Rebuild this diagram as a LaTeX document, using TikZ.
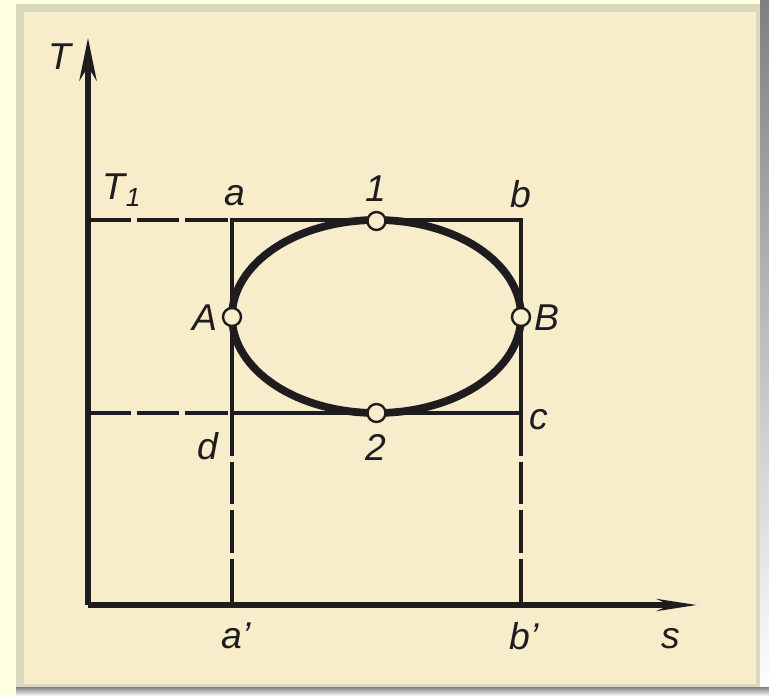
\documentclass[tikz,border=0pt]{standalone}
\usepackage{fontspec}
\setmainfont{Liberation Sans}
\usepackage{xcolor}
\definecolor{ink}{HTML}{1E1C1E}
\definecolor{paper}{HTML}{F7EDCB}
\definecolor{mount}{HTML}{D9D9BC}
\definecolor{shade}{HTML}{7F7E82}
\definecolor{page}{HTML}{FFFFE2}
\usepackage{tikz}
\usetikzlibrary{arrows.meta}
\tikzset{
  axis/.style={line width=3.8pt, color=ink},
  rim/.style={line width=2.3pt, color=ink},
  rimdash/.style={rim, dash pattern=on 32pt off 4.5pt},
  cyc/.style={line width=5.8pt, color=ink},
  spot/.style={circle, draw=ink, fill=paper, line width=1.8pt, inner sep=0pt, minimum size=13.5pt},
  lbl/.style={font=\fontsize{28}{32}\selectfont\itshape, text=ink, inner sep=0pt},
}

\begin{document}
\begin{tikzpicture}[x=0.75pt, y=-0.75pt]
  \useasboundingbox (0,0) rectangle (769,696);

  % the scan: page, mount, paper
  \fill[page] (0,0) rectangle (769,696);
  \fill[mount] (16,4) rectangle (760,687);
  \fill[paper] (24,12) rectangle (756,684);
  \fill[shade] (760,0) rectangle (769,696);
  \fill[shade] (16,687) rectangle (769,696);

  \coordinate (O) at (88,605);
  \coordinate (Ttip) at (88,38);
  \coordinate (stip) at (697,605);
  \coordinate (T1) at (88,220);
  \coordinate (T2) at (88,413);
  \coordinate (a) at (232,220);
  \coordinate (b) at (521,220);
  \coordinate (c) at (521,413);
  \coordinate (d) at (232,413);
  \coordinate (ap) at (232,605);
  \coordinate (bp) at (521,605);

  % axes
  \draw[axis, -{Stealth[length=32pt, width=13pt]}] (O) -- (Ttip);
  \draw[axis, -{Stealth[length=30pt, width=9pt]}] (O) -- (stip);

  % the rectangle abcd and the drop lines
  \draw[rimdash] (T1) -- (a);
  \draw[rimdash] (T2) -- (d);
  \draw[rim] (d) -- (a) -- (b) -- (c) -- cycle;
  \draw[rimdash] (d) -- (ap);
  \draw[rimdash] (c) -- (bp);

  % the cycle
  \draw[cyc] (376.5,316.5) ellipse [x radius=144.5, y radius=96.5];

  \node[spot] (p1) at (376.5,221) {};
  \node[spot] (pA) at (232,317) {};
  \node[spot] (pB) at (521,317) {};
  \node[spot] (p2) at (376.5,413) {};

  % labels
  \node[lbl] (lT) at (60,57) {T};
  \node[lbl] (ls) at (671,639) {s};
  \node[lbl] (lT1) at (122,190) {T\textsubscript{1}};
  \node[lbl] (la) at (235,196) {a};
  \node[lbl] (lb) at (521,194) {b};
  \node[lbl] (l1) at (376,189) {1};
  \node[lbl] (lA) at (205,318) {A};
  \node[lbl] (lB) at (547,318) {B};
  \node[lbl] (lc) at (539,420) {c};
  \node[lbl] (ld) at (208,446) {d};
  \node[lbl] (l2) at (376,447) {2};
  \node[lbl] (lap) at (236,636) {a'};
  \node[lbl] (lbp) at (524,636) {b'};
\end{tikzpicture}
\end{document}
